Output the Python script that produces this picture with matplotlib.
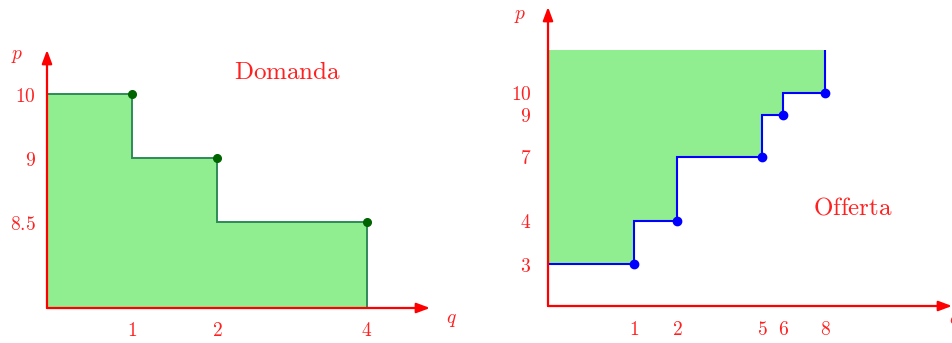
import numpy as np
import matplotlib
matplotlib.use('Agg')
import matplotlib.pyplot as plt

plt.rcParams['mathtext.fontset'] = 'cm'

# Domanda (demand): step ends at (q, p)
q_dom = [1, 2, 4]
p_dom = [10, 9, 8.5]
# Offerta (supply): step ends at (q, p)
q_off = [1, 2, 5, 6, 8]
p_off = [3, 4, 7, 9, 10]
p_off_top = 12

RED = '#ff0000'
TXT = '#ff2020'
FILL = '#90ee90'
FS = 14


def piecewise(vals, pix):
  # schematic (non-linear) axis as in the original drawing
  fwd = lambda v: np.interp(v, vals, pix)
  inv = lambda x: np.interp(x, pix, vals)
  return (fwd, inv)


def draw_axes(ax, xmax, ymax):
  for s in ax.spines.values():
    s.set_visible(False)
  ax.set_facecolor('none')
  arr = dict(arrowstyle='-|>,head_length=0.8,head_width=0.3', color=RED, lw=1.6,
             shrinkA=0, shrinkB=0)
  x0, y0 = ax.get_xlim()[0], ax.get_ylim()[0]
  ax.annotate('', xy=(xmax, y0), xytext=(x0, y0), arrowprops=arr,
              annotation_clip=False)
  ax.annotate('', xy=(x0, ymax), xytext=(x0, y0), arrowprops=arr,
              annotation_clip=False)


def set_ticks(ax, qs, ps, xpad, ypad):
  ax.set_xticks(qs)
  ax.set_xticklabels(['$%g$' % v for v in qs], fontsize=FS, color=TXT)
  ax.set_yticks(ps)
  ax.set_yticklabels(['$%g$' % v for v in ps], fontsize=FS, color=TXT)
  ax.tick_params(length=0)
  ax.tick_params(axis='x', pad=xpad)
  ax.tick_params(axis='y', pad=ypad)


fig = plt.figure(figsize=(9.52, 3.43), dpi=100)
W, H = 952.0, 343.0

# ---- left: Domanda ----
ax1 = fig.add_axes([47/W, (H-308)/H, (430-47)/W, (308-50)/H])
ax1.set_xscale('function', functions=piecewise([0, 1, 2, 4, 4.75],
                                               [0, 85, 170, 320, 383]))
ax1.set_yscale('function', functions=piecewise([8, 8.5, 9, 10, 10.7],
                                               [0, 86, 150, 214, 258]))
ax1.set_xlim(0, 4.75)
ax1.set_ylim(8, 10.7)
edges = [0] + q_dom
ax1.stairs(p_dom, edges, baseline=8, fill=True, color=FILL, zorder=1)
ax1.stairs(p_dom, edges, baseline=8, color='#2e8b57', lw=1.4, zorder=2)
ax1.plot(q_dom, p_dom, 'o', color='#006400', ms=5.5, zorder=4, clip_on=False)
draw_axes(ax1, 4.75, 10.7)
set_ticks(ax1, q_dom, p_dom, 9, 8)
ax1.text(-0.078, 0.98, '$p$', color=TXT, fontsize=FS, ha='center',
         va='center', transform=ax1.transAxes)
ax1.text(1.057, -0.043, '$q$', color=TXT, fontsize=FS, ha='center',
         va='center', transform=ax1.transAxes)
ax1.text(0.629, 0.915, r'$\mathrm{Domanda}$', color=TXT, fontsize=18,
         ha='center', va='center', transform=ax1.transAxes)

# ---- right: Offerta ----
qx = [0, 1, 2, 5, 6, 8, 14]
qpx = [0, 86, 129, 214, 235, 277, 404]
py = [0, 3, 4, 7, 9, 10, 12, 14]
ppx = [0, 42, 85, 149, 191, 213, 256, 299]
ax2 = fig.add_axes([548/W, (H-306)/H, 404/W, 299/H])
ax2.set_xscale('function', functions=piecewise(qx, qpx))
ax2.set_yscale('function', functions=piecewise(py, ppx))
ax2.set_xlim(0, 14)
ax2.set_ylim(0, 14)
edges = [0] + q_off
ax2.stairs(p_off, edges, baseline=p_off_top, fill=True, color=FILL, zorder=1)
ax2.stairs(p_off, edges, baseline=p_off_top, color='#0000ff', lw=1.5, zorder=2)
ax2.plot(q_off, p_off, 'o', color='#0000ff', ms=6, zorder=4)
draw_axes(ax2, 14.3, 14)
set_ticks(ax2, q_off, p_off, 10, 12)
ax2.text(-0.069, 0.97, '$p$', color=TXT, fontsize=FS, ha='center',
         va='center', transform=ax2.transAxes)
ax2.text(0.993, -0.05, '$q$', color=TXT, fontsize=FS, ha='left',
         va='center', transform=ax2.transAxes)
ax2.text(0.755, 0.328, r'$\mathrm{Offerta}$', color=TXT, fontsize=18,
         ha='center', va='center', transform=ax2.transAxes)

fig.savefig('out.png', dpi=100)
